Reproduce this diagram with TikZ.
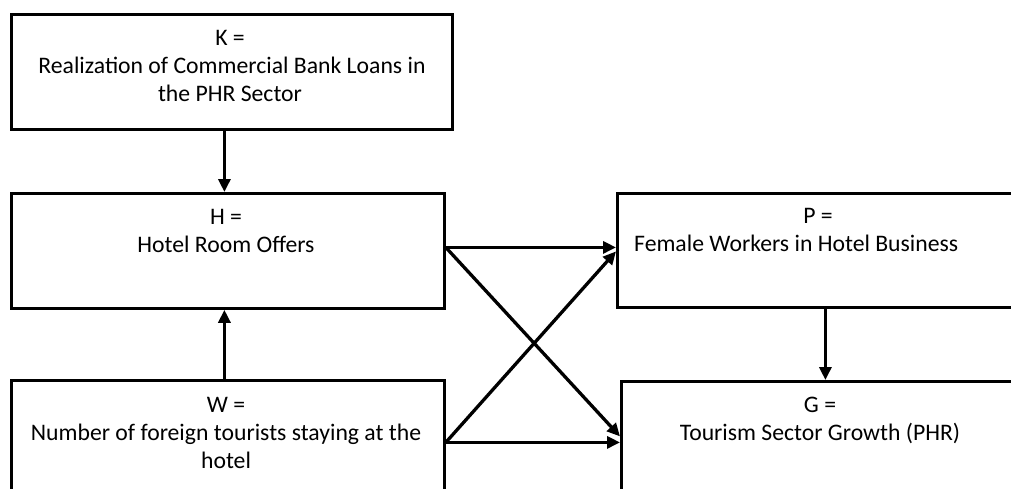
\documentclass[tikz,border=0pt]{standalone}
\usepackage{fontspec}
\setmainfont{Carlito}
\usetikzlibrary{arrows.meta}
\begin{document}
\begin{tikzpicture}[x=1pt,y=-1pt,
  box/.style={draw,line width=2.8pt,rectangle,inner sep=0pt,anchor=north west},
  lbl/.style={inner sep=0pt,anchor=base,font=\fontsize{23.7}{28}\selectfont},
  link/.style={line width=3.3pt,-{Triangle[length=13pt,width=12pt]}}]
  \useasboundingbox (0,0) rectangle (1011,488);
  \clip (0,0) rectangle (1011,488);
  % boxes
  \node[box,minimum width=441,minimum height=115] (K) at (10,13) {};
  \node[box,minimum width=433,minimum height=115] (H) at (10,192) {};
  \node[box,minimum width=433,minimum height=130] (W) at (10,379) {};
  \node[box,minimum width=420,minimum height=114] (P) at (616,192) {};
  \node[box,minimum width=420,minimum height=130] (G) at (620,380) {};
  % labels, one node per line
  \node[lbl] (K1) at (230,45) {K =};
  \node[lbl] (K2) at (232,73) {Realization of Commercial Bank Loans in};
  \node[lbl] (K3) at (230,101) {the PHR Sector};
  \node[lbl] (H1) at (226,224) {H =};
  \node[lbl] (H2) at (226,252) {Hotel Room Offers};
  \node[lbl] (W1) at (226,412) {W =};
  \node[lbl] (W2) at (226,440) {Number of foreign tourists staying at the};
  \node[lbl] (W3) at (226,468) {hotel};
  \node[lbl] (P1) at (818,223) {P =};
  \node[lbl,anchor=base west] (P2) at (634,251) {Female Workers in Hotel Business};
  \node[lbl] (G1) at (820,412) {G =};
  \node[lbl] (G2) at (820,440) {Tourism Sector Growth (PHR)};
  % end points of the connectors on the box sides
  \coordinate (Ho) at ([yshift=3.5]H.east);
  \coordinate (Wo) at ([yshift=3]W.east);
  \coordinate (Pi) at ([yshift=3]P.west);
  \coordinate (Pd) at ([yshift=-1]P.west);
  \coordinate (Gd) at ([yshift=10]G.west);
  \coordinate (Gi) at ([yshift=4]G.west);
  \draw[link] ([xshift=-7.5]K.south) -- ([xshift=-3.5]H.north);
  \draw[link] ([xshift=-3.5]W.north) -- ([xshift=-3.5]H.south);
  \draw[link] ([xshift=-2]P.south) -- ([xshift=-6]G.north);
  \draw[link] (Ho) -- (Pi);
  \draw[link] (Ho) -- (Gd);
  \draw[link] (Wo) -- (Pd);
  \draw[link] (Wo) -- (Gi);
\end{tikzpicture}
\end{document}
